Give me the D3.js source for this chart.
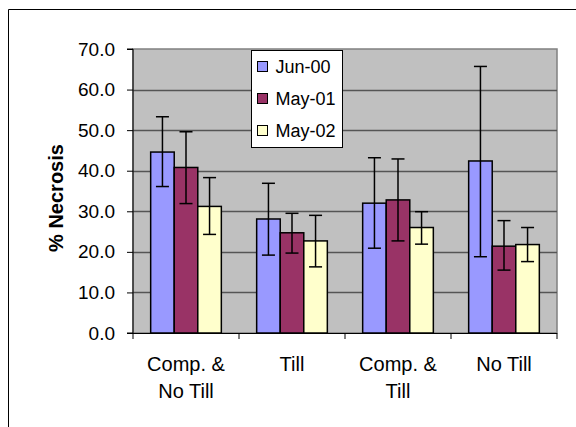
<!DOCTYPE html>
<html><head><meta charset="utf-8">
<script src="https://cdn.jsdelivr.net/npm/d3@7"></script>
<style>body{margin:0;background:#fff}svg{display:block;font-family:"Liberation Sans",Arial,sans-serif}</style>
</head><body><svg id="c" width="576" height="427"></svg>
<script>
const categories = [["Comp. &","No Till"],["Till"],["Comp. &","Till"],["No Till"]];
const seriesNames = ["Jun-00","May-01","May-02"];
const seriesColors = ["#9999ff","#993366","#ffffcc"];
const jun00 = [44.6, 28.1, 32.0, 42.4];
const may01 = [40.8, 24.7, 32.8, 21.4];
const may02 = [31.2, 22.7, 26.0, 21.8];
const jun00Err = [[36.1,53.3],[19.2,36.9],[20.9,43.2],[18.8,65.7]];
const may01Err = [[31.9,49.6],[19.7,29.5],[22.7,42.9],[15.5,27.7]];
const may02Err = [[24.3,38.3],[16.3,29.0],[21.9,29.9],[17.6,26.0]];
const yTicks = [0,10,20,30,40,50,60,70];

const values=[jun00,may01,may02], errs=[jun00Err,may01Err,may02Err];
const svg=d3.select("#c");
const L=133,R=557,T=49,B=333;
// frame
svg.append("path").attr("d","M8.5,427 V9.5 H576").attr("fill","none").attr("stroke","#000").attr("stroke-width",1);
const x=d3.scaleBand().domain(d3.range(categories.length)).range([L,R]).paddingInner(0).paddingOuter(0);
const y=d3.scaleLinear().domain([0,70]).range([B,T]);
svg.append("rect").attr("x",L).attr("y",T).attr("width",R-L).attr("height",B-T).attr("fill","#c0c0c0").attr("stroke","#808080").attr("stroke-width",1.5);
svg.append("g").selectAll("line").data(yTicks.filter(d=>d>0&&d<70)).join("line")
  .attr("x1",L).attr("x2",R).attr("y1",d=>Math.round(y(d))+0.5).attr("y2",d=>Math.round(y(d))+0.5)
  .attr("stroke","#555").attr("stroke-width",1.5);
// bars
const groupW=x.bandwidth()*3/4.5; const barW=groupW/3; const off=(x.bandwidth()-groupW)/2;
const xs=d3.scaleBand().domain(d3.range(3)).range([0,groupW]);
for(let s=0;s<3;s++){
  const g=svg.append("g");
  g.selectAll("rect").data(values[s]).join("rect")
    .attr("x",(d,i)=>x(i)+off+xs(s)).attr("y",d=>y(d)).attr("width",barW).attr("height",d=>B-y(d))
    .attr("fill",seriesColors[s]).attr("stroke","#000").attr("stroke-width",1.5);
  const e=svg.append("g").attr("stroke","#000").attr("stroke-width",1.5);
  errs[s].forEach((r,i)=>{
    const cx=x(i)+off+xs(s)+barW/2;
    e.append("line").attr("x1",cx).attr("x2",cx).attr("y1",y(r[0])).attr("y2",y(r[1]));
    e.append("line").attr("x1",cx-6.5).attr("x2",cx+6.5).attr("y1",y(r[0])).attr("y2",y(r[0]));
    e.append("line").attr("x1",cx-6.5).attr("x2",cx+6.5).attr("y1",y(r[1])).attr("y2",y(r[1]));
  });
}
// y axis
const ya=svg.append("g").attr("transform",`translate(${L},0)`)
  .call(d3.axisLeft(y).tickValues(yTicks).tickFormat(d3.format(".1f")).tickSize(6).tickPadding(12));
ya.select(".domain").attr("stroke","#000").attr("d",`M-6,${T}H0V${B}H-6`);
ya.selectAll("text").attr("font-size",19).attr("fill","#000").attr("font-family","Liberation Sans, Arial, sans-serif");
ya.selectAll(".tick line").attr("stroke","#000");
// x axis
const xa=svg.append("g").attr("transform",`translate(0,${B})`);
xa.append("line").attr("x1",L).attr("x2",R).attr("y1",0.5).attr("y2",0.5).attr("stroke","#000");
xa.selectAll("line.t").data(d3.range(categories.length+1)).join("line").attr("class","t")
  .attr("x1",i=>i<categories.length?x(i):R).attr("x2",i=>i<categories.length?x(i):R)
  .attr("y1",0).attr("y2",6).attr("stroke","#000");
categories.forEach((lines,i)=>{
  const t=xa.append("text").attr("text-anchor","middle").attr("font-size",20).attr("fill","#000");
  lines.forEach((ln,j)=>t.append("tspan").attr("x",x(i)+x.bandwidth()/2).attr("y",38+j*26.5).text(ln));
});
// y title
svg.append("text").attr("transform","translate(63,198) rotate(-90)").attr("text-anchor","middle")
  .attr("font-size",20).attr("font-weight","bold").text("% Necrosis");
// legend
const lg=svg.append("g").attr("transform","translate(251.5,50.5)");
lg.append("rect").attr("width",91).attr("height",97).attr("fill","#fff").attr("stroke","#000");
seriesNames.forEach((n,i)=>{
  const cy=16+i*32;
  lg.append("rect").attr("x",6).attr("y",cy-5).attr("width",10).attr("height",10).attr("fill",seriesColors[i]).attr("stroke","#000");
  lg.append("text").attr("x",24).attr("y",cy+6.5).attr("font-size",18).text(n);
});
</script></body></html>
